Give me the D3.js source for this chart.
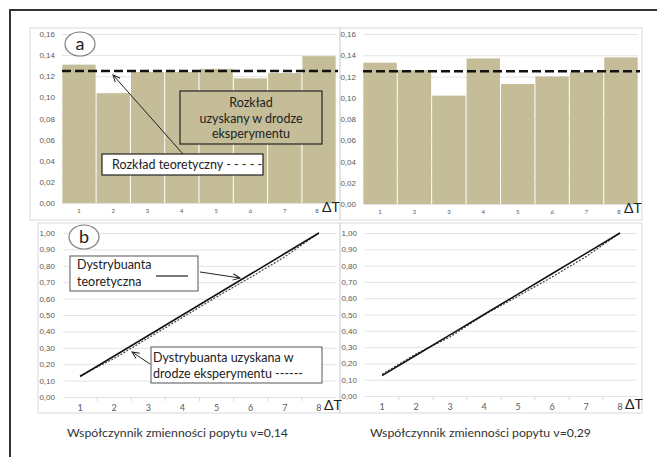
<!DOCTYPE html>
<html>
<head>
<meta charset="utf-8">
<script src="https://cdn.jsdelivr.net/npm/d3@7"></script>
<style>
body { margin: 0; background: #fff; }
svg { font-family: Lato, "Open Sans", sans-serif; }
.grid line { stroke: #e3e3e3; }
.grid path { display: none; }
.ylab text { fill: #595959; font-size: 8px; }
.ylab path, .ylab line { display: none; }
</style>
</head>
<body>
<script>
// categories (time intervals)
var intervals = [1, 2, 3, 4, 5, 6, 7, 8];

// probability per interval, v=0.14 and v=0.29
var probLeft = [0.131, 0.104, 0.124, 0.124, 0.127, 0.118, 0.123, 0.139];
var probRight = [0.133, 0.126, 0.102, 0.137, 0.113, 0.120, 0.124, 0.138];
var theoryLevel = 0.125;

// distribution functions
var cdfTheory = [0.125, 0.25, 0.375, 0.5, 0.625, 0.75, 0.875, 1.0];
var cdfLeft = [0.13, 0.235, 0.36, 0.485, 0.61, 0.73, 0.855, 1.0];
var cdfRight = [0.133, 0.258, 0.362, 0.498, 0.612, 0.73, 0.855, 1.0];

var ticksA = [0, 0.02, 0.04, 0.06, 0.08, 0.10, 0.12, 0.14, 0.16];
var ticksB = [0, 0.1, 0.2, 0.3, 0.4, 0.5, 0.6, 0.7, 0.8, 0.9, 1.0];

var captions = ["Współczynnik zmienności popytu \u03bd=0,14", "Współczynnik zmienności popytu \u03bd=0,29"];

var fmt = function(d) { return d3.format(".2f")(d).replace(".", ","); };

var svg = d3.select("body").append("svg")
  .attr("width", 657)
  .attr("height", 457);

svg.append("defs").append("marker")
  .attr("id", "arr")
  .attr("viewBox", "0 0 10 10")
  .attr("refX", 9).attr("refY", 5)
  .attr("markerWidth", 8).attr("markerHeight", 8)
  .attr("orient", "auto")
  .append("path")
  .attr("d", "M0,1 L9,5 L0,9")
  .attr("fill", "none")
  .attr("stroke", "#222")
  .attr("stroke-width", 1.2);

// outer frame (top + left edge)
svg.append("path")
  .attr("d", "M10,457 L10,10 L657,10")
  .attr("fill", "none")
  .attr("stroke", "#333")
  .attr("stroke-width", 2);

// panel boxes
[[30, 28, 310, 192], [340, 28, 302, 192], [38, 223, 302, 190], [340, 223, 302, 190]].forEach(function(b) {
  svg.append("rect")
    .attr("x", b[0]).attr("y", b[1])
    .attr("width", b[2]).attr("height", b[3])
    .attr("fill", "none")
    .attr("stroke", "#d9d9d9");
});

// ---- panels a: bar charts
function drawBars(values, x0, x1, y0, y1) {
  var x = d3.scaleBand().domain(intervals).range([x0, x1]).paddingInner(0.03).paddingOuter(0.01);
  var y = d3.scaleLinear().domain([0, 0.16]).range([y1, y0]);
  var g = svg.append("g");

  g.append("g")
    .attr("class", "grid")
    .attr("transform", "translate(" + x0 + ",0)")
    .call(d3.axisLeft(y).tickValues(ticksA).tickSize(-(x1 - x0)).tickFormat(""));

  g.append("g")
    .attr("class", "ylab")
    .attr("transform", "translate(" + (x0 - 7) + ",0)")
    .call(d3.axisLeft(y).tickValues(ticksA).tickSize(0).tickPadding(0).tickFormat(fmt));

  g.selectAll(".bar").data(values)
    .enter()
    .append("rect")
    .attr("class", "bar")
    .attr("x", function(d, i) { return x(intervals[i]); })
    .attr("width", x.bandwidth())
    .attr("y", function(d) { return y(d); })
    .attr("height", function(d) { return y(0) - y(d); })
    .attr("fill", "#c4bd97");

  g.selectAll(".xl").data(intervals)
    .enter()
    .append("text")
    .attr("x", function(d) { return x(d) + x.bandwidth() / 2 - (d === 8 ? 2 : 0); })
    .attr("y", y1 + 10)
    .attr("text-anchor", "middle")
    .attr("font-size", 6)
    .attr("fill", "#595959")
    .text(function(d) { return d; });

  g.append("line")
    .attr("x1", x0).attr("x2", x1 + 2)
    .attr("y1", y(theoryLevel)).attr("y2", y(theoryLevel))
    .attr("stroke", "#111")
    .attr("stroke-width", 2.5)
    .attr("stroke-dasharray", "9,4");

  g.append("text")
    .attr("x", x1 - 14).attr("y", y1 + 9)
    .attr("font-size", 14)
    .attr("fill", "#222")
    .text("\u0394T");

  return { x: x, y: y };
}

var a1 = drawBars(probLeft, 62, 336, 34, 203);
var a2 = drawBars(probRight, 363, 638, 34, 204);

// ---- panels b: distribution functions
function drawCdf(empirical, x0, x1, y0, y1) {
  var x = d3.scaleLinear().domain([0.5, 8.5]).range([x0, x1]);
  var y = d3.scaleLinear().domain([0, 1]).range([y1, y0]);
  var g = svg.append("g");

  g.append("g")
    .attr("class", "grid")
    .attr("transform", "translate(" + x0 + ",0)")
    .call(d3.axisLeft(y).tickValues(ticksB).tickSize(-(x1 - x0)).tickFormat(""));

  g.append("g")
    .attr("class", "ylab")
    .attr("transform", "translate(" + (x0 - 8) + ",0)")
    .call(d3.axisLeft(y).tickValues(ticksB).tickSize(0).tickPadding(0).tickFormat(fmt));

  // minor ticks between categories
  g.selectAll(".mt").data(d3.range(1.5, 8.5, 1))
    .enter()
    .append("line")
    .attr("x1", function(d) { return x(d); })
    .attr("x2", function(d) { return x(d); })
    .attr("y1", y1).attr("y2", y1 + 4)
    .attr("stroke", "#d9d9d9");

  g.selectAll(".xl").data(intervals)
    .enter()
    .append("text")
    .attr("x", function(d) { return x(d); })
    .attr("y", y1 + 14)
    .attr("text-anchor", "middle")
    .attr("font-size", 9)
    .attr("fill", "#595959")
    .text(function(d) { return d; });

  var line = d3.line()
    .x(function(d, i) { return x(intervals[i]); })
    .y(function(d) { return y(d); });

  g.append("path")
    .datum(empirical)
    .attr("d", line)
    .attr("fill", "none")
    .attr("stroke", "#444")
    .attr("stroke-width", 1.2)
    .attr("stroke-dasharray", "2,1.5");

  g.append("path")
    .datum(cdfTheory)
    .attr("d", line)
    .attr("fill", "none")
    .attr("stroke", "#111")
    .attr("stroke-width", 1.5);

  g.append("text")
    .attr("x", x1 - 12).attr("y", y1 + 13)
    .attr("font-size", 14)
    .attr("fill", "#222")
    .text("\u0394T");

  return { x: x, y: y };
}

var b1 = drawCdf(cdfLeft, 63, 336, 233, 397);
var b2 = drawCdf(cdfRight, 365, 637, 233, 396);

// ---- panel labels
function circleLabel(cx, cy, txt) {
  svg.append("ellipse")
    .attr("cx", cx).attr("cy", cy)
    .attr("rx", 15).attr("ry", 12)
    .attr("fill", "#fff")
    .attr("stroke", "#7f7f7f")
    .attr("stroke-width", 1.2);
  svg.append("text")
    .attr("x", cx).attr("y", cy + 6)
    .attr("text-anchor", "middle")
    .attr("font-size", 18)
    .attr("fill", "#222")
    .text(txt);
}
circleLabel(80, 44, "a");
circleLabel(84, 237, "b");

// ---- annotations, panel a
function arrow(xA, yA, xB, yB) {
  svg.append("line")
    .attr("x1", xA).attr("y1", yA)
    .attr("x2", xB).attr("y2", yB)
    .attr("stroke", "#222")
    .attr("stroke-width", 1)
    .attr("marker-end", "url(#arr)");
}

arrow(183, 154, 113, 75);

svg.append("rect")
  .attr("x", 180).attr("y", 91).attr("width", 142).attr("height", 53)
  .attr("fill", "#c4bd97")
  .attr("stroke", "#222").attr("stroke-width", 1.2);
["Rozkład", "uzyskany w drodze", "eksperymentu"].forEach(function(t, i) {
  svg.append("text")
    .attr("x", 251).attr("y", 107 + i * 15.5)
    .attr("text-anchor", "middle")
    .attr("font-size", 12.5)
    .attr("fill", "#222")
    .text(t);
});

svg.append("rect")
  .attr("x", 102).attr("y", 154).attr("width", 161).attr("height", 21)
  .attr("fill", "#fff")
  .attr("stroke", "#222").attr("stroke-width", 1.2);
svg.append("text")
  .attr("x", 112).attr("y", 169)
  .attr("font-size", 12.5)
  .attr("fill", "#222")
  .text("Rozkład teoretyczny - - - - -");

// ---- annotations, panel b
svg.append("rect")
  .attr("x", 70).attr("y", 256).attr("width", 128).attr("height", 35)
  .attr("fill", "#fff")
  .attr("stroke", "#555").attr("stroke-width", 1);
svg.append("text").attr("x", 77).attr("y", 269).attr("font-size", 12.5).attr("fill", "#222").text("Dystrybuanta");
svg.append("text").attr("x", 77).attr("y", 286).attr("font-size", 12.5).attr("fill", "#222").text("teoretyczna");
svg.append("line")
  .attr("x1", 156).attr("x2", 188).attr("y1", 276).attr("y2", 276)
  .attr("stroke", "#222").attr("stroke-width", 1.2);
arrow(200, 272, 240, 278);

svg.append("rect")
  .attr("x", 151).attr("y", 347).attr("width", 171).attr("height", 36)
  .attr("fill", "#fff")
  .attr("stroke", "#555").attr("stroke-width", 1);
svg.append("text").attr("x", 153).attr("y", 362).attr("font-size", 12.5).attr("fill", "#222").text("Dystrybuanta uzyskana w");
svg.append("text").attr("x", 153).attr("y", 378).attr("font-size", 12.5).attr("fill", "#222").text("drodze eksperymentu  ------");
arrow(150, 364, 132, 352);

// ---- captions
svg.append("text").attr("x", 67).attr("y", 437).attr("font-size", 12.3).attr("fill", "#333").text(captions[0]);
svg.append("text").attr("x", 370).attr("y", 437).attr("font-size", 12.3).attr("fill", "#333").text(captions[1]);
</script>
</body>
</html>
